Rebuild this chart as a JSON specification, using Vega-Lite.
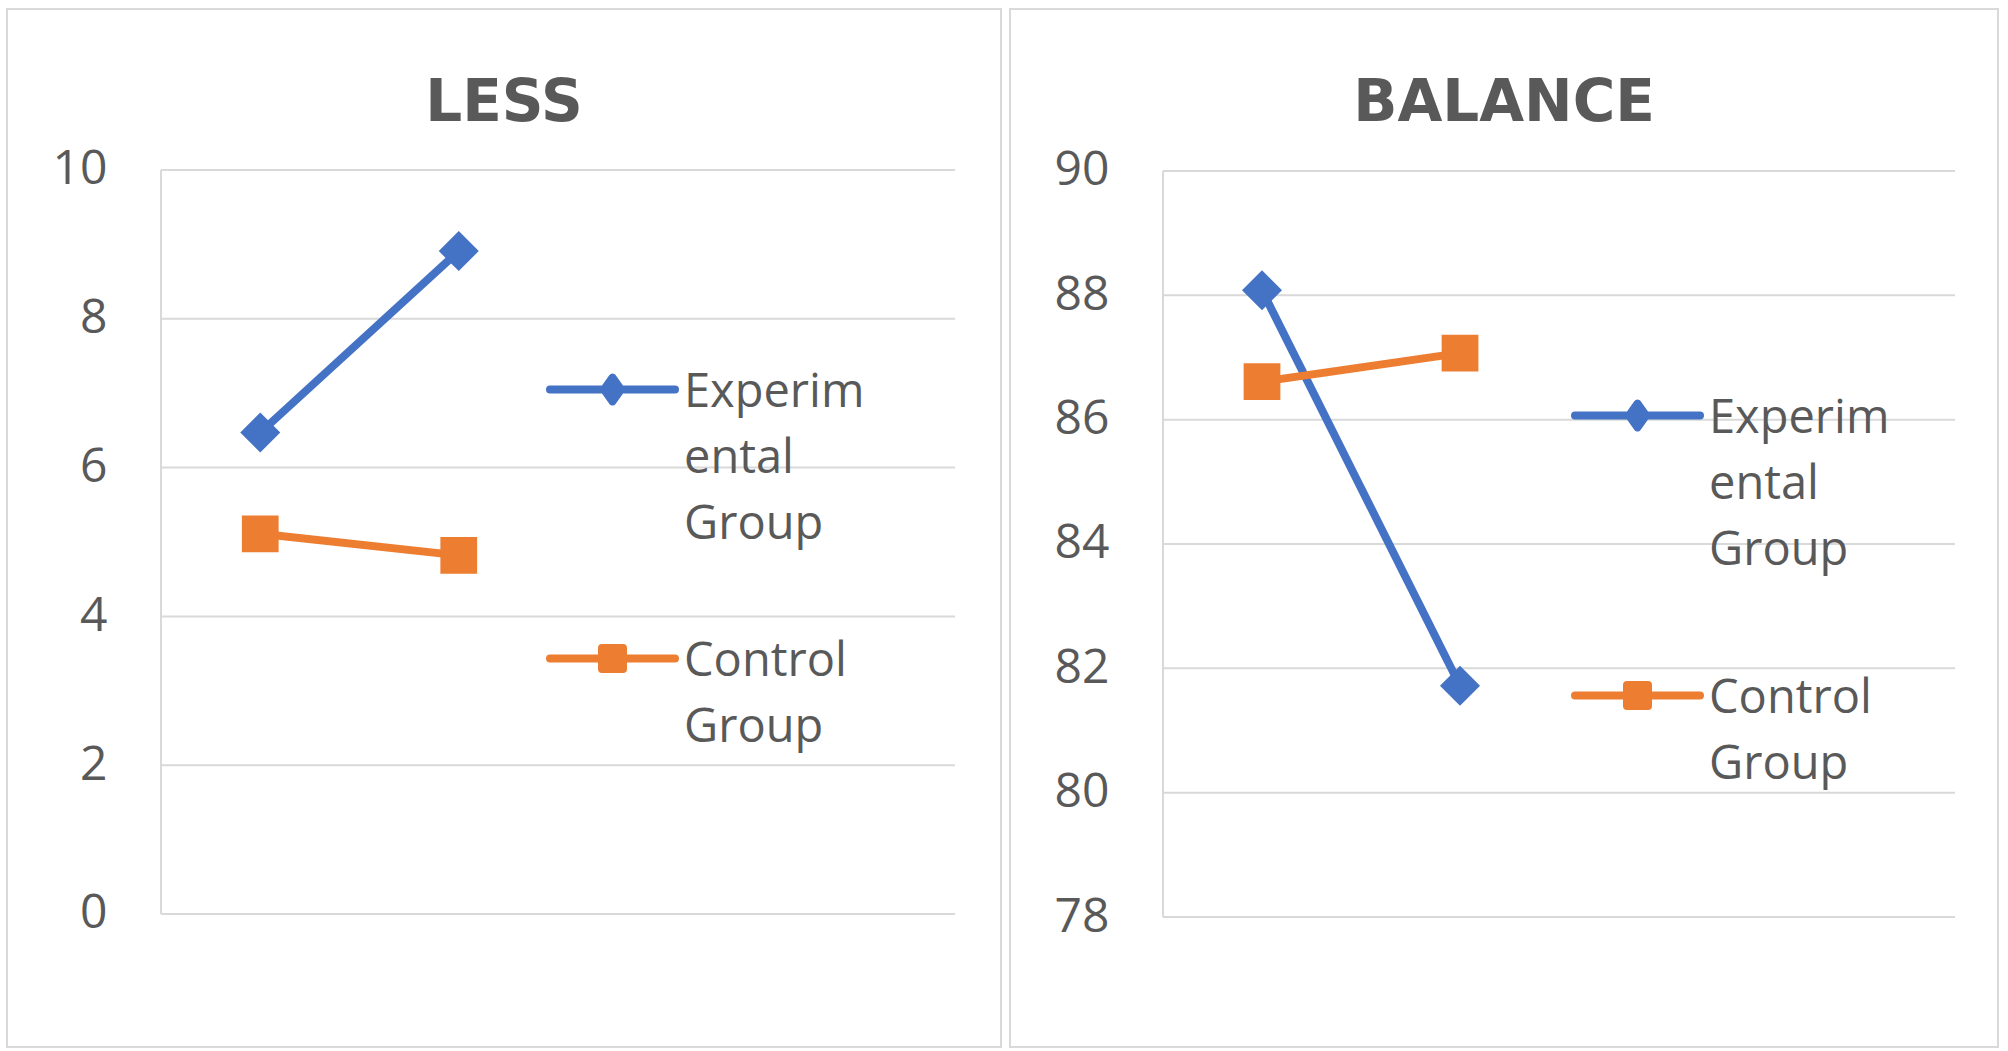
{
  "$schema": "https://vega.github.io/schema/vega-lite/v6.json",
  "background": "white",
  "padding": {"left": 6, "top": 8, "right": 0, "bottom": 0},
  "spacing": 7,
  "config": {
    "view": {"stroke": "#D9D9D9", "strokeWidth": 2},
    "font": "Open Sans",
    "title": {"font": "DejaVu Sans", "fontSize": 58, "fontWeight": "bold", "color": "#595959", "anchor": "middle", "offset": -124},
    "axis": {"title": null}
  },
  "datasets": {
    "less": [
      {"group": "Experimental Group", "test": 1, "score": 6.47},
      {"group": "Experimental Group", "test": 2, "score": 8.91},
      {"group": "Control Group", "test": 1, "score": 5.11},
      {"group": "Control Group", "test": 2, "score": 4.82}
    ],
    "balance": [
      {"group": "Experimental Group", "test": 1, "score": 88.08},
      {"group": "Experimental Group", "test": 2, "score": 81.72},
      {"group": "Control Group", "test": 1, "score": 86.61},
      {"group": "Control Group", "test": 2, "score": 87.07}
    ],
    "less_grid": [{"value": 0}, {"value": 2}, {"value": 4}, {"value": 6}, {"value": 8}, {"value": 10}],
    "balance_grid": [{"value": 78}, {"value": 80}, {"value": 82}, {"value": 84}, {"value": 86}, {"value": 88}, {"value": 90}]
  },
  "resolve": {
    "scale": {"color": "independent", "x": "independent", "y": "independent"},
    "legend": {"color": "independent"}
  },
  "hconcat": [
    {
      "width": 994,
      "height": 1038,
      "title": {"text": "LESS"},
      "layer": [
        {
          "data": {"name": "less_grid"},
          "mark": {"type": "rule", "color": "#D9D9D9", "strokeWidth": 2},
          "encoding": {
            "x": {"datum": 0.5, "type": "quantitative", "scale": {"domain": [-0.2758, 4.7317], "nice": false, "zero": false}, "axis": null},
            "x2": {"datum": 4.5},
            "y": {"field": "value", "type": "quantitative", "title": null,
              "scale": {"domain": [-1.788, 12.164], "nice": false, "zero": false},
              "axis": {"values": [0, 2, 4, 6, 8, 10], "format": "d", "grid": false, "domain": false, "ticks": false, "offset": -154, "labelPadding": 54, "labelFontSize": 48, "labelColor": "#595959", "labelFont": "Open Sans", "title": null}}
          }
        },
        {
          "data": {"values": [{}]},
          "mark": {"type": "rule", "color": "#D9D9D9", "strokeWidth": 2},
          "encoding": {
            "x": {"datum": 0.5, "type": "quantitative"},
            "y": {"datum": 0, "type": "quantitative", "title": null},
            "y2": {"datum": 10}
          }
        },
        {
          "data": {"name": "less"},
          "encoding": {
            "x": {"field": "test", "type": "quantitative"},
            "y": {"field": "score", "type": "quantitative", "title": null},
            "color": {
              "field": "group", "type": "nominal",
              "scale": {"domain": ["Experimental Group", "Control Group"], "range": ["#4472C4", "#ED7D31"]},
              "legend": {
                "orient": "none", "legendX": 539, "legendY": 314, "title": null, "padding": 0,
                "symbolSize": 15625, "symbolStrokeWidth": 8,
                "labelFont": "Open Sans", "labelFontSize": 47, "labelColor": "#595959", "labelLimit": 0,
                "labelOffset": 5, "labelBaseline": "alphabetic", "rowPadding": 44,
                "labelExpr": "datum.value == 'Experimental Group' ? ['Experim', 'ental', 'Group'] : ['Control', 'Group']",
                "encode": {
                  "symbols": {"update": {
                    "shape": {"signal": "datum.value == 'Experimental Group' ? 'M-1,0H1M0,-0.19L0.136,0L0,0.19L-0.136,0Z' : 'M-1,0H1M-0.168,-0.168H0.168V0.168H-0.168Z'"},
                    "fill": {"signal": "datum.value == 'Experimental Group' ? '#4472C4' : '#ED7D31'"},
                    "stroke": {"signal": "datum.value == 'Experimental Group' ? '#4472C4' : '#ED7D31'"},
                    "strokeWidth": {"value": 8},
                    "strokeCap": {"value": "round"},
                    "strokeJoin": {"value": "round"},
                    "opacity": {"value": 1}
                  }},
                  "labels": {"update": {"dy": {"value": 17}, "lineHeight": {"value": 66}}}
                }
              }
            }
          },
          "layer": [
            {"mark": {"type": "line", "strokeWidth": 8}},
            {
              "transform": [{"filter": "datum.group == 'Experimental Group'"}],
              "mark": {"type": "point", "shape": "diamond", "filled": true, "size": 1600, "opacity": 1}
            },
            {
              "transform": [{"filter": "datum.group == 'Control Group'"}],
              "mark": {"type": "point", "shape": "square", "filled": true, "size": 1350, "opacity": 1}
            }
          ]
        }
      ]
    },
    {
      "width": 988,
      "height": 1038,
      "title": {"text": "BALANCE"},
      "layer": [
        {
          "data": {"name": "balance_grid"},
          "mark": {"type": "rule", "color": "#D9D9D9", "strokeWidth": 2},
          "encoding": {
            "x": {"datum": 0.5, "type": "quantitative", "scale": {"domain": [-0.2727, 4.717], "nice": false, "zero": false}, "axis": null},
            "x2": {"datum": 4.5},
            "y": {"field": "value", "type": "quantitative", "title": null,
              "scale": {"domain": [75.909, 92.605], "nice": false, "zero": false},
              "axis": {"values": [78, 80, 82, 84, 86, 88, 90], "format": "d", "grid": false, "domain": false, "ticks": false, "offset": -153, "labelPadding": 54, "labelFontSize": 48, "labelColor": "#595959", "labelFont": "Open Sans", "title": null}}
          }
        },
        {
          "data": {"values": [{}]},
          "mark": {"type": "rule", "color": "#D9D9D9", "strokeWidth": 2},
          "encoding": {
            "x": {"datum": 0.5, "type": "quantitative"},
            "y": {"datum": 78, "type": "quantitative", "title": null},
            "y2": {"datum": 90}
          }
        },
        {
          "data": {"name": "balance"},
          "encoding": {
            "x": {"field": "test", "type": "quantitative"},
            "y": {"field": "score", "type": "quantitative", "title": null},
            "color": {
              "field": "group", "type": "nominal",
              "scale": {"domain": ["Experimental Group", "Control Group"], "range": ["#4472C4", "#ED7D31"]},
              "legend": {
                "orient": "none", "legendX": 561, "legendY": 340, "title": null, "padding": 0,
                "symbolSize": 15625, "symbolStrokeWidth": 8,
                "labelFont": "Open Sans", "labelFontSize": 47, "labelColor": "#595959", "labelLimit": 0,
                "labelOffset": 5, "labelBaseline": "alphabetic", "rowPadding": 55,
                "labelExpr": "datum.value == 'Experimental Group' ? ['Experim', 'ental', 'Group'] : ['Control', 'Group']",
                "encode": {
                  "symbols": {"update": {
                    "shape": {"signal": "datum.value == 'Experimental Group' ? 'M-1,0H1M0,-0.19L0.136,0L0,0.19L-0.136,0Z' : 'M-1,0H1M-0.168,-0.168H0.168V0.168H-0.168Z'"},
                    "fill": {"signal": "datum.value == 'Experimental Group' ? '#4472C4' : '#ED7D31'"},
                    "stroke": {"signal": "datum.value == 'Experimental Group' ? '#4472C4' : '#ED7D31'"},
                    "strokeWidth": {"value": 8},
                    "strokeCap": {"value": "round"},
                    "strokeJoin": {"value": "round"},
                    "opacity": {"value": 1}
                  }},
                  "labels": {"update": {"dy": {"value": 17}, "lineHeight": {"value": 66}}}
                }
              }
            }
          },
          "layer": [
            {"mark": {"type": "line", "strokeWidth": 8}},
            {
              "transform": [{"filter": "datum.group == 'Experimental Group'"}],
              "mark": {"type": "point", "shape": "diamond", "filled": true, "size": 1600, "opacity": 1}
            },
            {
              "transform": [{"filter": "datum.group == 'Control Group'"}],
              "mark": {"type": "point", "shape": "square", "filled": true, "size": 1350, "opacity": 1}
            }
          ]
        }
      ]
    }
  ]
}
